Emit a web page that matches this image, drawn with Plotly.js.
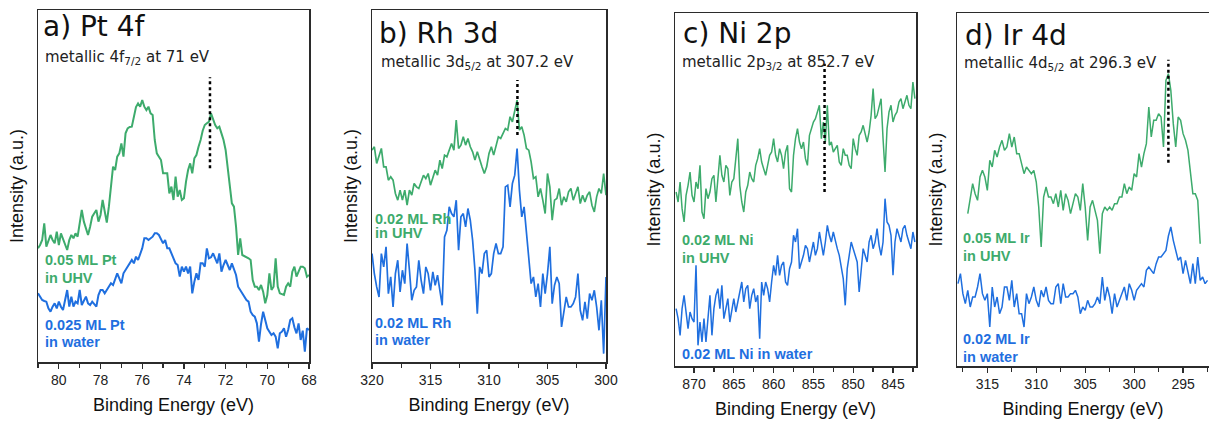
<!DOCTYPE html>
<html>
<head>
<meta charset="utf-8">
<script src="https://cdn.plot.ly/plotly-3.0.1.min.js"></script>
<style>html,body{margin:0;padding:0;background:#fff;}#chart{width:1209px;height:423px;}</style>
</head>
<body>
<div id="chart"></div>
<script>
// ---------- data (intensity in arbitrary units) ----------
// Panel a: Pt 4f, energy grid 81.0 -> 68.0 eV, step 0.1 eV
const ptStart = 81.0, ptStep = -0.1;
const ptUHV = [341,351,366,416,346,366,381,366,356,391,351,386,371,351,336,366,381,371,386,376,
416,456,421,401,381,406,436,446,456,421,441,486,456,418,466,531,586,576,616,626,
656,616,686,701,705,706,736,765,776,766,786,766,756,766,746,741,666,626,616,606,
566,566,566,506,526,486,556,496,516,486,491,541,576,596,566,611,621,646,666,694,
711,716,721,746,726,711,701,706,686,666,636,581,526,476,466,406,321,371,321,318,
316,311,306,246,226,226,216,231,211,176,201,266,216,226,311,226,206,203,201,226,
236,226,271,286,256,271,286,286,281,256,261];
const ptWater = [206,196,186,183,181,161,151,166,176,161,181,166,156,186,216,166,196,166,181,176,
216,171,186,196,176,171,181,174,166,201,216,216,206,216,226,236,231,251,266,251,
236,266,276,286,296,306,296,316,306,326,341,371,371,366,371,376,386,386,381,366,
356,366,341,341,326,306,296,291,256,286,271,286,266,286,206,241,266,246,296,296,
286,341,311,314,326,311,296,326,271,291,306,291,276,296,276,261,226,216,206,196,
186,181,151,141,136,116,61,114,151,126,101,91,81,86,76,41,86,91,101,76,
96,126,131,104,86,116,66,94,31,101,96];

// Panel b: Rh 3d, energy grid 320.0 -> 300.0 eV, step 0.2 eV
const rhStart = 320.0, rhStep = -0.2;
const rhUHV = [635,645,595,615,640,585,585,545,555,545,505,485,515,485,515,470,515,500,535,525,
520,540,560,550,565,530,550,575,560,605,580,620,615,635,655,635,725,640,650,675,
650,670,645,630,605,630,605,585,565,585,625,645,620,650,675,670,685,700,695,735,
720,755,785,695,705,680,640,635,600,550,555,495,520,485,445,565,525,425,485,490,
520,470,495,480,510,520,485,505,525,475,500,480,500,510,470,450,495,520,505,565,500];
const rhWater = [325,265,225,195,325,285,345,205,255,165,265,305,210,275,235,355,275,185,215,225,
305,245,205,285,265,215,270,230,260,215,170,375,395,465,445,435,485,335,435,445,
405,460,425,365,275,145,285,265,325,335,255,265,325,355,325,325,345,525,530,465,
535,560,640,515,435,465,395,325,235,255,195,235,165,265,205,265,345,175,230,255,
235,105,145,195,165,165,175,195,265,155,125,180,130,205,185,215,165,95,185,25,255];

// Panel c: Ni 2p, energy grid 872.25 -> 842.25 eV, step 0.25 eV
const niStart = 872.25, niStep = -0.25;
const niUHV = [522,492,552,472,432,512,542,582,512,492,552,532,602,462,442,532,502,522,562,572,
492,552,632,572,552,602,592,512,552,562,622,682,542,492,462,522,542,582,562,552,
602,622,652,612,592,572,602,632,642,682,632,612,652,632,592,642,662,532,522,632,
682,712,672,652,672,622,602,692,712,732,742,762,782,682,732,672,782,662,672,642,
652,662,612,602,652,632,632,602,592,682,652,632,692,702,722,692,672,702,752,832,
742,752,782,802,682,582,712,762,782,732,752,762,792,802,772,792,812,782,772,852,802];
const niWater = [172,142,92,172,212,152,112,162,142,132,302,62,132,72,142,72,152,212,92,172,
212,232,172,242,142,172,202,132,172,202,162,192,212,252,192,232,242,172,212,232,
192,212,82,252,212,252,232,192,252,302,272,332,272,302,312,252,242,292,312,392,
372,412,292,312,332,362,352,312,342,372,332,352,402,372,332,372,422,392,372,402,
372,352,332,302,262,182,292,332,372,352,332,312,222,302,352,332,312,372,392,352,
372,412,362,332,372,502,432,422,392,272,372,412,392,372,412,422,392,372,352,402,372];

// Panel d: Ir 4d
const irUHVStart = 317.0, irWaterStart = 318.0, irStep = -0.25;
const irUHV = [457,497,547,517,497,567,587,567,527,617,597,647,627,657,677,647,657,697,657,687,
637,637,607,577,597,587,577,587,552,477,357,507,537,507,507,487,517,477,527,467,
517,497,457,487,517,507,467,547,477,377,477,497,467,437,337,457,477,467,477,467,
487,487,507,507,547,517,537,527,577,567,637,597,637,667,777,687,737,737,757,747,
657,857,877,827,727,657,747,737,697,677,647,577,517,517,497,367];
const irWater = [247,277,217,187,227,177,207,207,237,277,217,197,217,117,237,177,207,157,177,237,
237,197,257,177,217,157,157,117,217,187,207,237,197,177,227,207,237,197,187,187,
237,247,187,247,207,207,217,217,227,207,157,177,167,197,177,177,187,207,187,267,
197,237,207,157,217,177,197,217,237,197,247,227,197,227,237,247,237,287,297,287,
277,307,327,327,337,347,390,417,377,347,317,327,277,317,277,247,307,247,327,257,
267,247,257];

// metallic reference energies and dotted-marker extents
const refEnergy = [72.75, 307.57, 853.6, 296.5];
const refLow    = [581, 680, 522, 610];
const refHigh   = [854, 845, 907, 919];

// text
const panelTitles = ['a) Pt 4f', 'b) Rh 3d', 'c) Ni 2p', 'd) Ir 4d'];
const panelNotes = ['metallic 4f<sub>7/2</sub> at 71 eV', 'metallic 3d<sub>5/2</sub> at 307.2 eV',
                    'metallic 2p<sub>3/2</sub> at 852.7 eV', 'metallic 4d<sub>5/2</sub> at 296.3 eV'];
const uhvLabels = [['0.05 ML Pt','in UHV'], ['0.02 ML Rh','in UHV'], ['0.02 ML Ni','in UHV'], ['0.05 ML Ir','in UHV']];
const waterLabels = [['0.025 ML Pt','in water'], ['0.02 ML Rh','in water'], ['0.02 ML Ni in water'], ['0.02 ML Ir','in water']];

// ---------- build ----------
function grid(start, step, n){ const a=[]; for(let i=0;i<n;i++) a.push(+(start+step*i).toFixed(3)); return a; }

const GREEN = '#3dab6c', BLUE = '#1f6fdf';
const W = 1209, H = 423;
const px = v => v / W, py = v => 1 - v / H;

const series = [
  {x: grid(ptStart, ptStep, ptUHV.length), y: ptUHV, c: GREEN, ax: '', w: 2},
  {x: grid(ptStart, ptStep, ptWater.length), y: ptWater, c: BLUE, ax: '', w: 2},
  {x: grid(rhStart, rhStep, rhUHV.length), y: rhUHV, c: GREEN, ax: '2', w: 1.7},
  {x: grid(rhStart, rhStep, rhWater.length), y: rhWater, c: BLUE, ax: '2', w: 1.7},
  {x: grid(niStart, niStep, niUHV.length), y: niUHV, c: GREEN, ax: '3', w: 1.5},
  {x: grid(niStart, niStep, niWater.length), y: niWater, c: BLUE, ax: '3', w: 1.5},
  {x: grid(irUHVStart, irStep, irUHV.length), y: irUHV, c: GREEN, ax: '4', w: 1.5},
  {x: grid(irWaterStart, irStep, irWater.length), y: irWater, c: BLUE, ax: '4', w: 1.5}
];
const traces = series.map(s => ({
  type: 'scatter', mode: 'lines', x: s.x, y: s.y,
  xaxis: 'x' + s.ax, yaxis: 'y' + s.ax,
  line: {color: s.c, width: s.w}, showlegend: false, hoverinfo: 'skip'
}));

// panel geometry (pixels)
const panels = [
  {x0: 38, x1: 309, top: 10, bot: 362, xr: [81, 68], dt: 2, mdt: 1, yr: [0, 1056], right: true},
  {x0: 372, x1: 606, top: 10, bot: 362, xr: [320, 300], dt: 5, mdt: 2.5, yr: [0, 1055], right: true},
  {x0: 675, x1: 916, top: 13, bot: 366, xr: [872.39, 842.11], dt: 5, mdt: 2.5, yr: [0, 1059], right: true},
  {x0: 957, x1: 1209, top: 13, bot: 366, xr: [318.1, 292.35], dt: 5, mdt: 2.5, yr: [0, 1059], right: false}
];
const AX = '#2b2b2b';
const layout = {
  width: W, height: H, margin: {l: 0, r: 0, t: 0, b: 0},
  paper_bgcolor: '#fff', plot_bgcolor: '#fff', showlegend: false,
  annotations: [], shapes: []
};
const titleStyle = [
  {tx: 41, ty: 27}, {tx: 377, ty: 33.5}, {tx: 681, ty: 33.5}, {tx: 963, ty: 35.5}
];
const noteStyle = [
  {tx: 43, ty: 58}, {tx: 379, ty: 62.5}, {tx: 680, ty: 62.5}, {tx: 962, ty: 63.5}
];
const uhvPos = [[43, 260, 278], [373, 219, 233], [680, 240, 258], [961, 238, 256]];
const waterPos = [[43, 325, 342], [373, 323, 340], [680, 354], [961, 339, 357]];

panels.forEach((p, i) => {
  const s = i === 0 ? '' : String(i + 1);
  layout['xaxis' + s] = {
    domain: [px(p.x0), px(p.x1)], range: p.xr, anchor: 'y' + s,
    showline: true, mirror: true, linecolor: AX, linewidth: 1.5,
    ticks: 'outside', ticklen: 5, tickwidth: 1.2, tickcolor: AX,
    dtick: p.dt, tick0: 0, showgrid: false, zeroline: false,
    minor: {dtick: p.mdt, ticks: 'outside', ticklen: 4, tickwidth: 1.2, tickcolor: AX, showgrid: false},
    tickfont: {family: 'Liberation Sans, Arial, sans-serif', size: 14, color: '#222'},
    automargin: false,
    title: {text: 'Binding Energy (eV)', standoff: 11,
            font: {family: 'Liberation Sans, Arial, sans-serif', size: 18, color: '#111'}}
  };
  layout['yaxis' + s] = {
    domain: [py(p.bot), py(p.top)], range: p.yr, anchor: 'x' + s,
    showline: true, mirror: p.right, linecolor: AX, linewidth: 1.5,
    ticks: '', showticklabels: false, showgrid: false, zeroline: false,
    automargin: false,
    title: {text: 'Intensity (a.u.)', standoff: 8,
            font: {family: 'Liberation Sans, Arial, sans-serif', size: 18, color: '#111'}}
  };
  // panel title + note
  layout.annotations.push({
    xref: 'paper', yref: 'paper', x: px(titleStyle[i].tx), y: py(titleStyle[i].ty),
    xanchor: 'left', yanchor: 'middle', showarrow: false, text: panelTitles[i],
    font: {family: 'DejaVu Sans, sans-serif', size: 28, color: '#111'}
  });
  layout.annotations.push({
    xref: 'paper', yref: 'paper', x: px(noteStyle[i].tx), y: py(noteStyle[i].ty),
    xanchor: 'left', yanchor: 'middle', showarrow: false, text: panelNotes[i],
    font: {family: 'DejaVu Sans, sans-serif', size: 15, color: '#222'}
  });
  // sample labels
  uhvLabels[i].forEach((t, k) => layout.annotations.push({
    xref: 'paper', yref: 'paper', x: px(uhvPos[i][0]), y: py(uhvPos[i][k + 1]),
    xanchor: 'left', yanchor: 'middle', showarrow: false, text: '<b>' + t + '</b>',
    font: {family: 'Liberation Sans, Arial, sans-serif', size: 14.5, color: GREEN}
  }));
  waterLabels[i].forEach((t, k) => layout.annotations.push({
    xref: 'paper', yref: 'paper', x: px(waterPos[i][0]), y: py(waterPos[i][k + 1]),
    xanchor: 'left', yanchor: 'middle', showarrow: false, text: '<b>' + t + '</b>',
    font: {family: 'Liberation Sans, Arial, sans-serif', size: 14.5, color: BLUE}
  }));
  // dotted reference marker
  layout.shapes.push({
    type: 'line', xref: 'x' + s, yref: 'y' + s,
    x0: refEnergy[i], x1: refEnergy[i], y0: refLow[i], y1: refHigh[i],
    line: {color: '#000', width: 2.5, dash: 'dot'}
  });
});

Plotly.newPlot('chart', traces, layout, {displayModeBar: false, staticPlot: true});
</script>
</body>
</html>
